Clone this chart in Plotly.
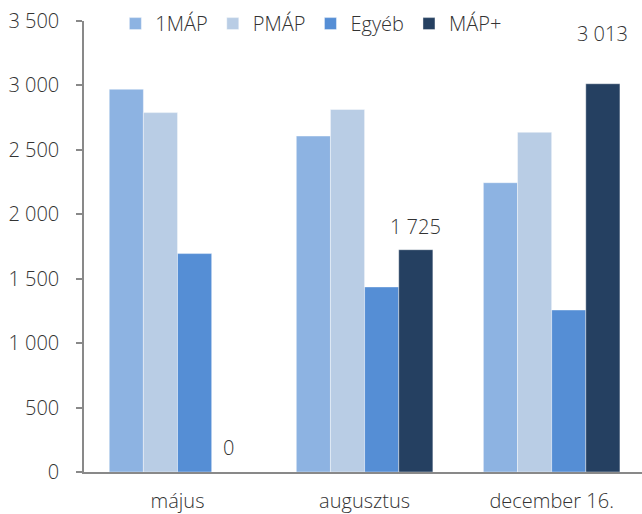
import plotly.graph_objects as go

categories = ["május", "augusztus", "december 16."]
series_names = ["1MÁP", "PMÁP", "Egyéb", "MÁP+"]
v_1map = [2970, 2607, 2245]
v_pmap = [2789, 2813, 2636]
v_egyeb = [1695, 1436, 1257]
v_mapplus = [0, 1725, 3013]
colors = ["#8DB3E2", "#B9CDE5", "#558ED5", "#254061"]
label_yshift = [9, 8, 35]

values = [v_1map, v_pmap, v_egyeb, v_mapplus]
font_family = "Open Sans"
text_color = "#333333"
fsize = 20
fnt = dict(family=font_family, size=fsize, color=text_color, weight=300)

fig = go.Figure()
for name, vals, col in zip(series_names, values, colors):
    fig.add_trace(go.Bar(
        x=categories, y=vals, name=name,
        marker=dict(color=col, line=dict(color="rgba(255,255,255,0.5)", width=0.8)),
    ))

bargap = 0.27
bar_w = (1 - bargap) / 4
for cat, v, ys in zip(categories, v_mapplus, label_yshift):
    fig.add_annotation(
        x=cat, y=v, xref="x", yref="y",
        text=f"{v:,}".replace(",", " "),
        showarrow=False, yanchor="bottom", yshift=ys,
        xshift=1.5 * bar_w * 187,
        font=fnt,
    )

fig.update_layout(
    width=642, height=514,
    margin=dict(l=84, r=0, t=21, b=42, autoexpand=False),
    paper_bgcolor="white", plot_bgcolor="white",
    barmode="group", bargap=bargap, bargroupgap=0,
    separators=", ",
    font=fnt,
    showlegend=True,
    legend=dict(
        orientation="h", xref="container", x=0.485, xanchor="center",
        yref="container", y=0.992, yanchor="top",
        font=fnt, itemwidth=30, tracegroupgap=0, bgcolor="rgba(0,0,0,0)",
    ),
    xaxis=dict(
        range=[-0.5, 2.483], showline=True, linecolor="#898989", linewidth=1.5,
        ticks="", showgrid=False, ticklabelstandoff=10, tickfont=fnt,
    ),
    yaxis=dict(
        range=[0, 3500], dtick=500, tickformat=",", showline=True,
        linecolor="#898989", linewidth=1.5, ticks="outside", ticklen=6,
        tickcolor="#898989", tickwidth=1.5, showgrid=False, zeroline=False,
        ticklabelstandoff=13, tickfont=fnt,
    ),
)

fig.write_html(
    "out.html",
    config={"displayModeBar": False},
    post_script="document.body.style.margin='0';document.body.style.overflow='hidden';",
)
